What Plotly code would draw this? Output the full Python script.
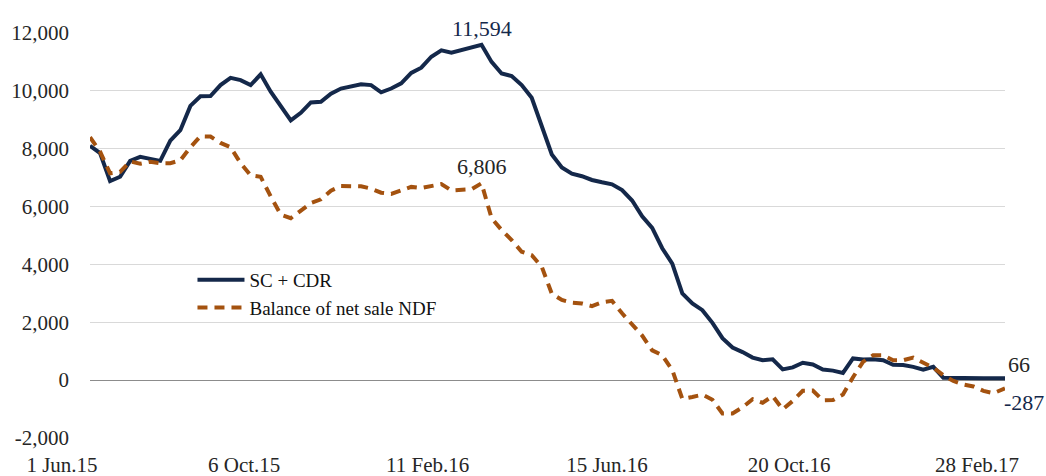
import plotly.graph_objects as go

dates = [
    "2015-06-01", "2015-06-08", "2015-06-15", "2015-06-22", "2015-06-29",
    "2015-07-06", "2015-07-13", "2015-07-20", "2015-07-27", "2015-08-03",
    "2015-08-10", "2015-08-17", "2015-08-24", "2015-08-31", "2015-09-07",
    "2015-09-14", "2015-09-21", "2015-09-28", "2015-10-05", "2015-10-12",
    "2015-10-19", "2015-10-26", "2015-11-02", "2015-11-09", "2015-11-16",
    "2015-11-23", "2015-11-30", "2015-12-07", "2015-12-14", "2015-12-21",
    "2015-12-28", "2016-01-04", "2016-01-11", "2016-01-18", "2016-01-25",
    "2016-02-01", "2016-02-08", "2016-02-15", "2016-02-22", "2016-02-29",
    "2016-03-07", "2016-03-14", "2016-03-21", "2016-03-28", "2016-04-04",
    "2016-04-11", "2016-04-18", "2016-04-25", "2016-05-02", "2016-05-09",
    "2016-05-16", "2016-05-23", "2016-05-30", "2016-06-06", "2016-06-13",
    "2016-06-20", "2016-06-27", "2016-07-04", "2016-07-11", "2016-07-18",
    "2016-07-25", "2016-08-01", "2016-08-08", "2016-08-15", "2016-08-22",
    "2016-08-29", "2016-09-05", "2016-09-12", "2016-09-19", "2016-09-26",
    "2016-10-03", "2016-10-10", "2016-10-17", "2016-10-24", "2016-10-31",
    "2016-11-07", "2016-11-14", "2016-11-21", "2016-11-28", "2016-12-05",
    "2016-12-12", "2016-12-19", "2016-12-26", "2017-01-02", "2017-01-09",
    "2017-01-16", "2017-01-23", "2017-01-30", "2017-02-06", "2017-02-13",
    "2017-02-20", "2017-02-28",
]

sc_cdr = [
    8100, 7850, 6880, 7030, 7580, 7720, 7650, 7580, 8280, 8640,
    9480, 9810, 9820, 10200, 10450, 10370, 10200, 10570, 9970, 9450,
    8980, 9240, 9600, 9620, 9900, 10080, 10150, 10230, 10200, 9950,
    10080, 10260, 10620, 10800, 11180, 11400, 11320, 11400, 11500, 11594,
    11000, 10600, 10510, 10200, 9760, 8820, 7800, 7350, 7140, 7050,
    6920, 6840, 6770, 6570, 6210, 5660, 5260, 4560, 4030, 3000,
    2650, 2420, 1980, 1450, 1130, 970, 780, 690, 720, 370,
    440, 600, 540, 370, 330, 250, 750, 710, 720, 690,
    530, 520, 460, 360, 460, 80, 70, 66, 66, 66,
    66, 66,
]

ndf_balance = [
    8400, 7900, 7150, 7200, 7560, 7480, 7550, 7500, 7500, 7600,
    8050, 8430, 8420, 8200, 8050, 7500, 7080, 7030, 6350, 5720,
    5600, 5880, 6120, 6250, 6550, 6710, 6720, 6700, 6620, 6480,
    6440, 6570, 6680, 6640, 6720, 6780, 6560, 6590, 6600, 6806,
    5600, 5190, 4840, 4440, 4320, 3920, 2990, 2770, 2680, 2650,
    2560, 2690, 2740, 2310, 1900, 1540, 1030, 860, 350, -650,
    -580, -500, -680, -1150, -1150, -940, -660, -780, -550, -1010,
    -720, -370, -360, -700, -690, -500, 100, 630, 860, 860,
    690, 690, 780, 600, 430, 170, -30, -150, -220, -370,
    -450, -287,
]

series_names = ["SC + CDR", "Balance of net sale NDF"]

x_tick_vals = ["2015-06-01", "2015-10-06", "2016-02-11", "2016-06-15", "2016-10-20", "2017-02-28"]
x_tick_text = ["1 Jun.15", "6 Oct.15", "11 Feb.16", "15 Jun.16", "20 Oct.16", "28 Feb.17"]

y_tick_vals = [-2000, 0, 2000, 4000, 6000, 8000, 10000, 12000]
y_tick_text = ["-2,000", "0", "2,000", "4,000", "6,000", "8,000", "10,000", "12,000"]

NAVY = "#14284A"
ORANGE = "#A4520F"
TEXT = "#262626"
FONT = "Liberation Serif"

fig = go.Figure()
fig.add_trace(go.Scatter(
    x=dates, y=sc_cdr, name=series_names[0], mode="lines",
    line=dict(color=NAVY, width=4),
))
fig.add_trace(go.Scatter(
    x=dates, y=ndf_balance, name=series_names[1], mode="lines",
    line=dict(color=ORANGE, width=4, dash="10px,7px"),
))

peak_i = 39
last_i = len(dates) - 1
fig.add_annotation(x=dates[peak_i], y=sc_cdr[peak_i], text="11,594", showarrow=False,
                   yshift=16, font=dict(family=FONT, size=22, color=NAVY))
fig.add_annotation(x=dates[peak_i], y=ndf_balance[peak_i], text="6,806", showarrow=False,
                   yshift=17, font=dict(family=FONT, size=22, color=TEXT))
fig.add_annotation(x=dates[last_i], y=sc_cdr[last_i], text=f"{sc_cdr[last_i]}", showarrow=False,
                   xanchor="left", xshift=1, yshift=14, font=dict(family=FONT, size=22, color=TEXT))
fig.add_annotation(x=dates[last_i], y=ndf_balance[last_i], text=f"{ndf_balance[last_i]:,}", showarrow=False,
                   xanchor="left", xshift=-3, yshift=-14, font=dict(family=FONT, size=22, color=NAVY))

fig.update_layout(
    width=1046, height=476,
    margin=dict(l=90, r=41, t=33, b=38, autoexpand=False),
    paper_bgcolor="white", plot_bgcolor="white",
    font=dict(family=FONT, size=21, color=TEXT),
    showlegend=True,
    legend=dict(
        x=0.112, y=0.437, xanchor="left", yanchor="top",
        bgcolor="rgba(0,0,0,0)", font=dict(family=FONT, size=19, color="#111111"),
        tracegroupgap=0, itemwidth=47,
    ),
    xaxis=dict(
        type="date", range=["2015-06-01", "2017-02-28"],
        tickvals=x_tick_vals, ticktext=x_tick_text, automargin=False,
        showgrid=False, zeroline=False, showline=False,
        ticks="", ticklabelshift=-28, ticklabelstandoff=12,
        tickfont=dict(family=FONT, size=21, color=TEXT),
    ),
    yaxis=dict(
        range=[-2000, 12000], tickvals=y_tick_vals, ticktext=y_tick_text,
        automargin=False,
        showgrid=True, gridcolor="#D9D9D9", gridwidth=1,
        zeroline=True, zerolinecolor="#8C8C8C", zerolinewidth=1,
        showline=False, ticks="", ticklabelstandoff=20,
        tickfont=dict(family=FONT, size=21, color=TEXT),
    ),
)

fig.write_html(
    "out.html",
    config={"displayModeBar": False},
    post_script="document.body.style.margin='0px';document.body.style.overflow='hidden';",
)
